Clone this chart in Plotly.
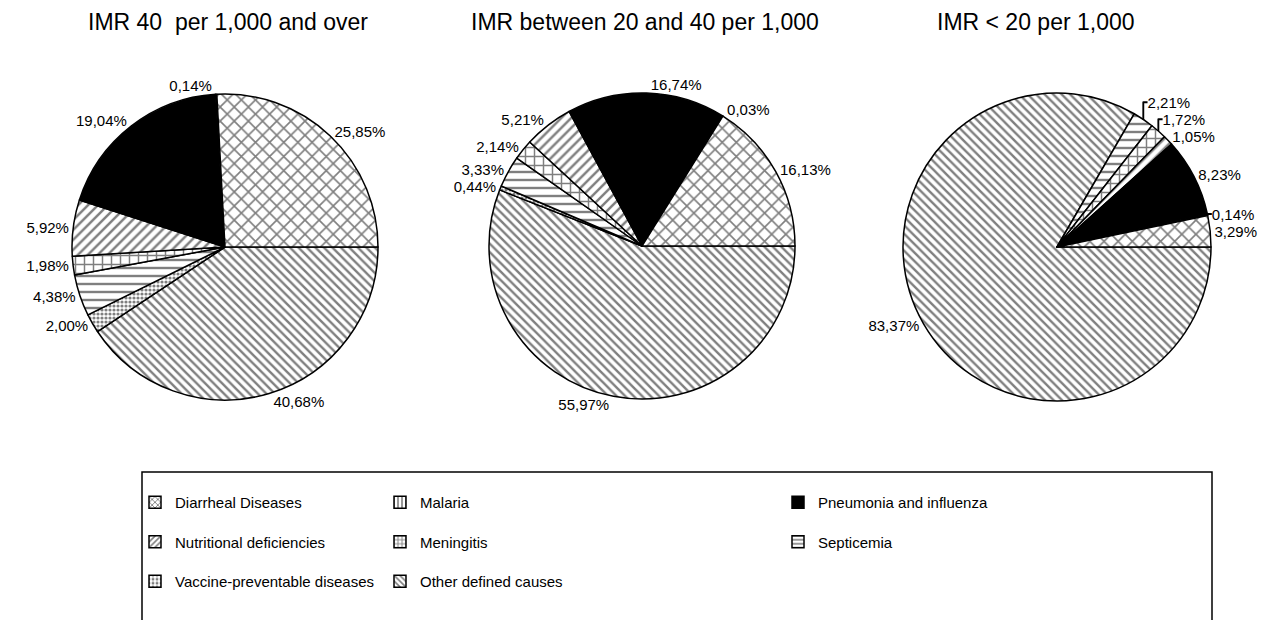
import plotly.graph_objects as go

# ---------------- data ----------------
causes = ["Diarrheal Diseases", "Malaria", "Pneumonia and influenza",
          "Nutritional deficiencies", "Meningitis", "Septicemia",
          "Vaccine-preventable diseases", "Other defined causes"]
imr_high = [25.85, 0.14, 19.04, 5.92, 1.98, 4.38, 2.00, 40.68]
imr_mid = [16.13, 0.03, 16.74, 5.21, 2.14, 3.33, 0.44, 55.97]
imr_low = [3.29, 0.14, 8.23, 1.05, 1.72, 2.21, 0.00, 83.37]
titles = ["IMR 40\u00a0 per 1,000 and over",
          "IMR between 20 and 40 per 1,000",
          "IMR < 20 per 1,000"]
legend_columns = [
    ["Diarrheal Diseases", "Nutritional deficiencies", "Vaccine-preventable diseases"],
    ["Malaria", "Meningitis", "Other defined causes"],
    ["Pneumonia and influenza", "Septicemia"],
]

# ---------------- styles ----------------
style = {
    "Diarrheal Diseases": dict(color="white", shape="x", size=10, solidity=0.3),
    "Malaria": dict(color="white", shape="|", size=4, solidity=0.45),
    "Pneumonia and influenza": dict(color="black", shape="", size=8, solidity=0.3),
    "Nutritional deficiencies": dict(color="white", shape="/", size=7, solidity=0.35),
    "Meningitis": dict(color="white", shape="+", size=9, solidity=0.3),
    "Septicemia": dict(color="white", shape="-", size=8, solidity=0.3),
    "Vaccine-preventable diseases": dict(color="white", shape=".", size=4, solidity=0.5),
    "Other defined causes": dict(color="white", shape="\\", size=6, solidity=0.4),
}

W, H = 1271, 620
OFF = 8  # page body margin in the screenshot
FONT = "Liberation Sans, Arial, sans-serif"


def px_x(v):
    return (v - OFF) / W


def px_y(v):
    return 1 - (v - OFF) / H


# pie geometry (screen pixels): centre x, centre y, radius
pie_geo = [(225, 247, 153), (642, 246, 153), (1057, 247, 154)]
series = [imr_high, imr_mid, imr_low]

fig = go.Figure()
for (cx, cy, r), vals in zip(pie_geo, series):
    # reference draws counter-clockwise from 3 o'clock; equivalent to
    # reversed order drawn clockwise from 3 o'clock
    labs = [c for c, v in zip(causes, vals) if v > 0][::-1]
    vv = [v for v in vals if v > 0][::-1]
    fig.add_trace(go.Pie(
        labels=labs, values=vv, sort=False, direction="clockwise",
        rotation=90, showlegend=False,
        domain=dict(x=[px_x(cx - r), px_x(cx + r)], y=[px_y(cy + r), px_y(cy - r)]),
        texttemplate="%{value:.2f}%", textposition="outside",
        textfont=dict(family=FONT, size=15, color="black"),
        marker=dict(
            colors=[style[c]["color"] for c in labs],
            line=dict(color="black", width=1.5),
            pattern=dict(
                shape=[style[c]["shape"] for c in labs],
                size=[style[c]["size"] for c in labs],
                solidity=[style[c]["solidity"] for c in labs],
                fgcolor="black", fillmode="overlay",
            ),
        ),
        hoverinfo="label+value",
    ))

# legend entries (one legend per column)
legend_names = ["legend", "legend2", "legend3"]
for lname, col in zip(legend_names, legend_columns):
    for c in col:
        s = style[c]
        fig.add_trace(go.Bar(
            x=[None], y=[None], name=c, legend=lname, legendgroup=c,
            showlegend=True,
            marker=dict(color=s["color"], line=dict(color="black", width=1.5),
                        pattern=dict(shape=s["shape"], size=5, solidity=0.4,
                                     fgcolor="black", fillmode="overlay")),
        ))

leg_common = dict(
    xanchor="left", yanchor="top", traceorder="grouped", tracegroupgap=17,
    font=dict(family=FONT, size=15, color="black"), bgcolor="rgba(0,0,0,0)",
    itemwidth=30,
)
leg_x = [135, 380, 778]
layout_legends = {}
for lname, lx in zip(legend_names, leg_x):
    layout_legends[lname] = dict(x=px_x(lx), y=px_y(486), **leg_common)

title_x = [228, 645, 1036]
annotations = [
    dict(text=t, x=px_x(tx), y=px_y(22), xref="paper", yref="paper",
         xanchor="center", yanchor="middle", showarrow=False,
         font=dict(family=FONT, size=23, color="black"))
    for t, tx in zip(titles, title_x)
]

fig.update_layout(
    width=W, height=H, margin=dict(l=0, r=0, t=0, b=0),
    paper_bgcolor="white", plot_bgcolor="white",
    separators=",.",
    xaxis=dict(visible=False), yaxis=dict(visible=False),
    annotations=annotations,
    shapes=[dict(type="rect", xref="paper", yref="paper",
                 x0=px_x(142), x1=px_x(1212), y0=px_y(660), y1=px_y(472),
                 line=dict(color="black", width=1.5), fillcolor="rgba(0,0,0,0)")],
    **layout_legends,
)

fig.write_html("out.html")
